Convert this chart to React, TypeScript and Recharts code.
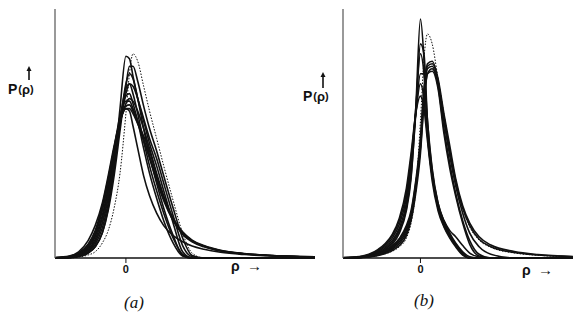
import React from 'react';
import { LineChart, Line, XAxis, YAxis } from 'recharts';

// sample positions along rho for panel (a)
const rhoA = [-3, -2.4, -2, -1.6, -1.3, -1, -0.75, -0.5, -0.25, 0, 0.15, 0.3, 0.5, 0.75, 1, 1.3, 1.6, 2, 2.4, 2.8, 3.3, 4, 5, 6, 8];

// P(rho) curves of panel (a)
const curvesA = [
  [0, 0, 0.004, 0.012, 0.025, 0.06, 0.11, 0.2, 0.34, 0.58, 0.74, 0.82, 0.79, 0.69, 0.59, 0.48, 0.37, 0.23, 0.1, 0.02, 0, 0, 0, 0, 0],
  [0, 0.001, 0.006, 0.02, 0.045, 0.1, 0.2, 0.36, 0.6, 0.81, 0.8, 0.73, 0.64, 0.55, 0.46, 0.37, 0.27, 0.14, 0.025, 0, 0, 0, 0, 0, 0],
  [0, 0.001, 0.006, 0.02, 0.045, 0.1, 0.19, 0.33, 0.51, 0.69, 0.77, 0.77, 0.71, 0.61, 0.52, 0.43, 0.33, 0.2, 0.08, 0.01, 0, 0, 0, 0, 0],
  [0, 0.002, 0.008, 0.025, 0.055, 0.12, 0.22, 0.36, 0.54, 0.7, 0.74, 0.72, 0.64, 0.52, 0.41, 0.3, 0.2, 0.09, 0.01, 0, 0, 0, 0, 0, 0],
  [0, 0.002, 0.01, 0.03, 0.065, 0.14, 0.24, 0.38, 0.54, 0.66, 0.7, 0.69, 0.64, 0.56, 0.48, 0.4, 0.3, 0.17, 0.05, 0.005, 0, 0, 0, 0, 0],
  [0, 0.003, 0.012, 0.035, 0.075, 0.16, 0.27, 0.41, 0.56, 0.65, 0.66, 0.62, 0.55, 0.44, 0.34, 0.24, 0.15, 0.06, 0.008, 0, 0, 0, 0, 0, 0],
  [0.001, 0.004, 0.014, 0.04, 0.085, 0.17, 0.28, 0.41, 0.54, 0.62, 0.64, 0.63, 0.59, 0.52, 0.44, 0.34, 0.25, 0.16, 0.105, 0.072, 0.05, 0.031, 0.018, 0.011, 0.005],
  [0.001, 0.005, 0.017, 0.045, 0.095, 0.19, 0.3, 0.43, 0.55, 0.61, 0.615, 0.59, 0.54, 0.47, 0.4, 0.31, 0.23, 0.15, 0.1, 0.07, 0.048, 0.03, 0.017, 0.011, 0.005],
  [0.001, 0.006, 0.02, 0.055, 0.11, 0.21, 0.32, 0.44, 0.55, 0.6, 0.59, 0.53, 0.44, 0.33, 0.25, 0.18, 0.13, 0.09, 0.065, 0.048, 0.035, 0.023, 0.014, 0.009, 0.004],
  [0.002, 0.008, 0.025, 0.07, 0.13, 0.22, 0.33, 0.45, 0.55, 0.6, 0.6, 0.58, 0.54, 0.49, 0.43, 0.33, 0.24, 0.15, 0.095, 0.065, 0.045, 0.028, 0.016, 0.01, 0.004],
  [0.001, 0.006, 0.02, 0.05, 0.1, 0.2, 0.31, 0.44, 0.57, 0.63, 0.63, 0.6, 0.55, 0.48, 0.41, 0.32, 0.24, 0.155, 0.1, 0.068, 0.047, 0.029, 0.017, 0.01, 0.004],
  [0, 0.003, 0.01, 0.03, 0.065, 0.14, 0.25, 0.39, 0.56, 0.68, 0.7, 0.66, 0.58, 0.47, 0.37, 0.27, 0.18, 0.08, 0.015, 0, 0, 0, 0, 0, 0],
];
const dashedA = [0];

// sample positions along rho for panel (b)
const rhoB = [-3.3, -2.6, -2.2, -1.8, -1.5, -1.2, -0.9, -0.6, -0.4, -0.2, 0, 0.15, 0.3, 0.5, 0.75, 1, 1.25, 1.5, 1.8, 2.1, 2.5, 3, 4, 5, 6.5];

// P(rho) curves of panel (b): narrow ones first, then broad long-tailed ones
const curvesB = [
  [0, 0.002, 0.006, 0.015, 0.03, 0.055, 0.1, 0.19, 0.32, 0.6, 0.96, 0.8, 0.5, 0.33, 0.21, 0.15, 0.11, 0.085, 0.05, 0.02, 0.004, 0, 0, 0, 0],
  [0, 0.002, 0.007, 0.018, 0.035, 0.062, 0.11, 0.2, 0.33, 0.58, 0.86, 0.82, 0.55, 0.35, 0.22, 0.15, 0.1, 0.06, 0.025, 0.005, 0, 0, 0, 0, 0],
  [0.001, 0.003, 0.009, 0.022, 0.04, 0.07, 0.12, 0.22, 0.36, 0.6, 0.82, 0.74, 0.52, 0.34, 0.21, 0.14, 0.09, 0.05, 0.015, 0, 0, 0, 0, 0, 0],
  [0.001, 0.004, 0.011, 0.026, 0.047, 0.08, 0.135, 0.24, 0.38, 0.58, 0.74, 0.74, 0.55, 0.36, 0.22, 0.145, 0.095, 0.055, 0.02, 0, 0, 0, 0, 0, 0],
  [0.001, 0.005, 0.013, 0.03, 0.053, 0.09, 0.15, 0.26, 0.4, 0.58, 0.7, 0.64, 0.49, 0.33, 0.2, 0.13, 0.085, 0.05, 0.015, 0, 0, 0, 0, 0, 0],
  [0.002, 0.006, 0.015, 0.035, 0.058, 0.095, 0.16, 0.28, 0.42, 0.58, 0.65, 0.6, 0.47, 0.31, 0.19, 0.125, 0.08, 0.045, 0.012, 0, 0, 0, 0, 0, 0],
  [0, 0.001, 0.004, 0.01, 0.017, 0.027, 0.045, 0.08, 0.14, 0.27, 0.55, 0.8, 0.9, 0.86, 0.72, 0.58, 0.44, 0.31, 0.2, 0.125, 0.072, 0.043, 0.02, 0.011, 0.005],
  [0, 0.001, 0.004, 0.01, 0.018, 0.03, 0.05, 0.09, 0.15, 0.26, 0.42, 0.62, 0.74, 0.76, 0.7, 0.56, 0.43, 0.31, 0.2, 0.13, 0.075, 0.045, 0.022, 0.012, 0.005],
  [0, 0.002, 0.005, 0.012, 0.022, 0.035, 0.058, 0.1, 0.16, 0.28, 0.45, 0.65, 0.76, 0.77, 0.69, 0.52, 0.38, 0.26, 0.15, 0.07, 0.015, 0, 0, 0, 0],
  [0, 0.002, 0.006, 0.014, 0.025, 0.04, 0.065, 0.11, 0.17, 0.29, 0.47, 0.67, 0.77, 0.78, 0.71, 0.55, 0.41, 0.29, 0.18, 0.1, 0.045, 0.015, 0, 0, 0],
  [0, 0.002, 0.006, 0.015, 0.027, 0.044, 0.072, 0.12, 0.18, 0.3, 0.44, 0.63, 0.74, 0.75, 0.68, 0.5, 0.36, 0.25, 0.14, 0.055, 0.008, 0, 0, 0, 0],
  [0, 0.002, 0.006, 0.015, 0.028, 0.048, 0.078, 0.13, 0.19, 0.31, 0.48, 0.68, 0.78, 0.79, 0.72, 0.58, 0.45, 0.32, 0.21, 0.14, 0.085, 0.052, 0.026, 0.014, 0.006],
];
const dashedB = [6];

const toRows = (xs: number[], curves: number[][]) =>
  xs.map((rho, i) => {
    const row: Record<string, number> = { rho };
    curves.forEach((c, k) => (row['c' + k] = c[i]));
    return row;
  });

const sans = '"Liberation Sans", Arial, sans-serif';

const Panel = ({ rows, count, dashed, domain, width, left }: any) => (
  <div style={{ position: 'absolute', left, top: 0 }}>
    <LineChart width={width} height={320} data={rows} margin={{ top: 9, right: 0, bottom: 0, left: 0 }}>
      <XAxis
        type="number"
        dataKey="rho"
        domain={domain}
        ticks={[0]}
        height={62}
        tickSize={5}
        axisLine={{ stroke: '#111', strokeWidth: 1.3 }}
        tickLine={{ stroke: '#111' }}
        tick={{ fill: '#111', fontFamily: sans, fontWeight: 700, fontSize: 11 }}
        allowDataOverflow
      />
      <YAxis type="number" domain={[0, 1]} width={10} tick={false} tickLine={false} axisLine={{ stroke: '#555', strokeWidth: 1.2 }} />
      {Array.from({ length: count }).map((_, k) => (
        <Line
          key={k}
          type="monotone"
          dataKey={'c' + k}
          stroke="#111"
          strokeWidth={dashed.includes(k) ? 1 : 1.6}
          strokeDasharray={dashed.includes(k) ? '1.5 1.5' : undefined}
          dot={false}
          isAnimationActive={false}
        />
      ))}
    </LineChart>
  </div>
);

const rowsA = toRows(rhoA, curvesA);
const rowsB = toRows(rhoB, curvesB);

const Arrow = ({ x, y1, y2 }: { x: number; y1: number; y2: number }) => (
  <g>
    <line x1={x} y1={y1 + 3} x2={x} y2={y2} stroke="#111" strokeWidth={1.6} />
    <polygon points={`${x - 2.5},${y1 + 5} ${x + 2.5},${y1 + 5} ${x},${y1}`} fill="#111" />
  </g>
);

const PLabel = ({ x, y }: { x: number; y: number }) => (
  <text x={x} y={y} fontFamily={sans} fontWeight={700} fontSize={14} fill="#111">
    P<tspan fontSize={11} dx={1} dy={-1}>(</tspan><tspan fontSize={13} dy={1}>ρ</tspan><tspan fontSize={11} dy={-1}>)</tspan>
  </text>
);

export default function App() {
  return (
    <div style={{ position: 'absolute', left: 0, top: 0, width: 573, height: 320, background: '#fff' }}>
      <Panel rows={rowsA} count={curvesA.length} dashed={dashedA} domain={[-3, 8]} width={270} left={45} />
      <Panel rows={rowsB} count={curvesB.length} dashed={dashedB} domain={[-3.3, 6.5]} width={240} left={333} />
      <svg width={573} height={320} style={{ position: 'absolute', left: 0, top: 0, pointerEvents: 'none' }}>
        <Arrow x={29} y1={66} y2={80} />
        <PLabel x={8} y={94} />
        <text x={231} y={271} fontFamily={sans} fontWeight={700} fontSize={14} fill="#111">ρ</text>
        <text x={247} y={271} fontFamily={sans} fontWeight={700} fontSize={15} fill="#111">→</text>
        <text x={124} y={308} fontFamily='"Liberation Serif", serif' fontStyle="italic" fontSize={17} fill="#111">(a)</text>

        <Arrow x={323} y1={72} y2={88} />
        <PLabel x={303} y={101} />
        <text x={522} y={275} fontFamily={sans} fontWeight={700} fontSize={14} fill="#111">ρ</text>
        <text x={538} y={275} fontFamily={sans} fontWeight={700} fontSize={15} fill="#111">→</text>
        <text x={414} y={306} fontFamily='"Liberation Serif", serif' fontStyle="italic" fontSize={17} fill="#111">(b)</text>
      </svg>
    </div>
  );
}
